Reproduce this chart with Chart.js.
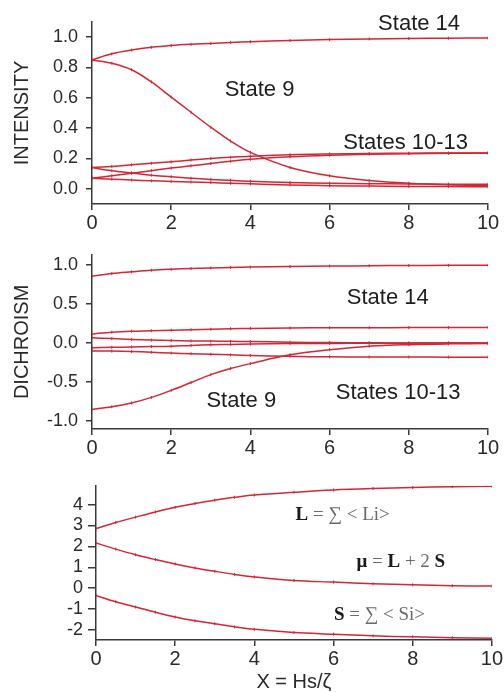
<!DOCTYPE html>
<html>
<head>
<meta charset="utf-8">
<script src="https://cdn.jsdelivr.net/npm/chart.js@4.4.1/dist/chart.umd.min.js"></script>
<style>
  html, body { margin: 0; padding: 0; background: #fff; }
  #wrap { position: relative; width: 504px; height: 692px; }
  canvas { position: absolute; left: 0; }
</style>
</head>
<body>
<div id="wrap">
  <canvas id="intensity" width="504" height="236" style="top:0"></canvas>
  <canvas id="dichroism" width="504" height="234" style="top:236px"></canvas>
  <canvas id="moments" width="504" height="222" style="top:470px"></canvas>
</div>
<script>
// field values X = Hs/zeta
const xs = [0, 0.5, 1, 1.5, 2, 2.5, 3, 3.5, 4, 5, 6, 7, 8, 9, 10];
const xTicks = [0, 2, 4, 6, 8, 10];

// intensity of each state
const intState14 = [0.85, 0.89, 0.915, 0.933, 0.945, 0.953, 0.959, 0.965, 0.97, 0.978, 0.984, 0.988, 0.991, 0.993, 0.995];
const intState9 = [0.85, 0.828, 0.785, 0.705, 0.605, 0.505, 0.406, 0.315, 0.24, 0.141, 0.086, 0.055, 0.037, 0.027, 0.022];
const intStateA = [0.14, 0.148, 0.158, 0.168, 0.178, 0.19, 0.2, 0.208, 0.215, 0.225, 0.23, 0.233, 0.235, 0.236, 0.237];
const intStateB = [0.07, 0.086, 0.103, 0.12, 0.137, 0.152, 0.167, 0.182, 0.195, 0.212, 0.222, 0.228, 0.232, 0.234, 0.236];
const intStateC = [0.14, 0.12, 0.105, 0.09, 0.08, 0.07, 0.062, 0.056, 0.05, 0.042, 0.037, 0.034, 0.032, 0.031, 0.03];
const intStateD = [0.07, 0.064, 0.058, 0.053, 0.049, 0.045, 0.041, 0.037, 0.033, 0.026, 0.021, 0.018, 0.016, 0.015, 0.014];
const intTicks = [0, 0.2, 0.4, 0.6, 0.8, 1.0];

// dichroism of each state
const dicState14 = [0.856, 0.89, 0.912, 0.932, 0.945, 0.955, 0.962, 0.968, 0.973, 0.98, 0.986, 0.99, 0.993, 0.995, 0.996];
const dicState9 = [-0.85, -0.815, -0.767, -0.695, -0.605, -0.505, -0.404, -0.325, -0.263, -0.15, -0.085, -0.04, -0.02, -0.01, -0.005];
const dicStateA = [0.117, 0.14, 0.152, 0.158, 0.165, 0.171, 0.177, 0.183, 0.188, 0.193, 0.196, 0.197, 0.198, 0.199, 0.2];
const dicStateB = [0.068, 0.058, 0.047, 0.038, 0.032, 0.028, 0.025, 0.022, 0.019, 0.012, 0.006, 0.003, 0.001, 0, 0];
const dicStateC = [-0.06, -0.055, -0.05, -0.045, -0.04, -0.03, -0.022, -0.017, -0.013, -0.007, -0.004, -0.002, -0.001, 0, 0];
const dicStateD = [-0.1, -0.103, -0.108, -0.117, -0.128, -0.136, -0.143, -0.151, -0.158, -0.17, -0.176, -0.178, -0.179, -0.18, -0.18];
const dicTicks = [-1.0, -0.5, 0, 0.5, 1.0];

// orbital, total and spin moments
const momentL = [2.85, 3.14, 3.4, 3.65, 3.87, 4.05, 4.21, 4.35, 4.46, 4.59, 4.7, 4.77, 4.82, 4.86, 4.88];
const momentMu = [2.16, 1.87, 1.6, 1.37, 1.16, 0.97, 0.81, 0.66, 0.54, 0.37, 0.29, 0.21, 0.16, 0.12, 0.1];
const momentS = [-0.35, -0.65, -0.9, -1.15, -1.38, -1.56, -1.7, -1.85, -1.97, -2.12, -2.2, -2.28, -2.33, -2.37, -2.4];
const momentTicks = [-2, -1, 0, 1, 2, 3, 4];

const RED = 'rgb(212, 38, 52)';
const AXIS = '#3a3a3a';
const SANS = '"Liberation Sans", Arial, sans-serif';
const SERIF = '"Liberation Serif", "Times New Roman", serif';

// draws free text at data coordinates, made of one or more styled runs
const textLabels = {
    id: 'textLabels',
    afterDatasetsDraw(chart, args, opts) {
        const { ctx } = chart;
        const x = chart.scales.x, y = chart.scales.y;
        (opts.items || []).forEach(item => {
            ctx.save();
            ctx.textBaseline = 'middle';
            ctx.textAlign = 'left';
            const runs = item.runs.map(r => ({
                ...r,
                font: `${r.bold ? 'bold ' : ''}${item.size}px ${item.family}`,
            }));
            let total = 0;
            runs.forEach(r => { ctx.font = r.font; r.w = ctx.measureText(r.text).width; total += r.w; });
            let px = x.getPixelForValue(item.x) - total / 2;
            const py = y.getPixelForValue(item.y);
            runs.forEach(r => {
                ctx.font = r.font;
                ctx.fillStyle = r.color || item.color;
                ctx.fillText(r.text, px, py);
                px += r.w;
            });
            ctx.restore();
        });
    }
};

function series(values) {
    return {
        data: xs.map((x, i) => ({ x, y: values[i] })),
        borderColor: RED,
        borderWidth: 1.5,
        pointStyle: 'line',
        rotation: 90,
        pointRadius: 1.5,
        pointBorderWidth: 1,
        pointBorderColor: RED,
        tension: 0.35,
        fill: false,
    };
}

function makePanel(id, p) {
    return new Chart(document.getElementById(id), {
        type: 'line',
        data: { datasets: p.values.map(series) },
        plugins: [textLabels],
        options: {
            responsive: false,
            animation: false,
            devicePixelRatio: 1,
            layout: { autoPadding: false, padding: { top: p.top, right: p.right, left: 0, bottom: 0 } },
            plugins: {
                legend: { display: false },
                tooltip: { enabled: false },
                textLabels: { items: p.labels },
            },
            scales: {
                x: {
                    type: 'linear',
                    min: 0,
                    max: 10,
                    afterBuildTicks: s => { s.ticks = xTicks.map(v => ({ value: v })); },
                    afterFit: s => { s.height = p.xHeight; },
                    ticks: { color: '#2a2a2a', font: { family: SANS, size: 20 }, padding: 1, maxRotation: 0 },
                    grid: { drawOnChartArea: false, tickLength: 6, color: AXIS, lineWidth: 1.5 },
                    border: { display: true, color: AXIS, width: 1.5 },
                    title: p.xTitle ? {
                        display: true,
                        text: p.xTitle,
                        color: '#2a2a2a',
                        font: { family: SANS, size: 20, lineHeight: 1 },
                        padding: { top: 0, bottom: 0 },
                    } : { display: false },
                },
                y: {
                    type: 'linear',
                    min: p.yMin,
                    max: p.yMax,
                    afterBuildTicks: s => { s.ticks = p.yTicks.map(v => ({ value: v })); },
                    afterFit: s => { s.width = p.yWidth; },
                    ticks: {
                        color: '#2a2a2a',
                        font: { family: SANS, size: 18 },
                        padding: p.yPad,
                        callback: v => p.fmt(v),
                    },
                    grid: { drawOnChartArea: false, tickLength: p.yTick, color: AXIS, lineWidth: 1.5 },
                    border: { display: true, color: AXIS, width: 1.5 },
                    title: p.yTitle ? {
                        display: true,
                        text: p.yTitle,
                        color: '#2a2a2a',
                        font: { family: SANS, size: 20 },
                        padding: { top: 10, bottom: 0 },
                    } : { display: false },
                },
            },
        },
    });
}

const oneDecimal = v => v.toFixed(1);
const sansLabel = (text, x, y) => ({ x, y, size: 22, family: SANS, color: '#1e1e1e', runs: [{ text }] });

makePanel('intensity', {
    values: [intState14, intState9, intStateA, intStateB, intStateC, intStateD],
    top: 22, right: 16, xHeight: 32, yWidth: 92, yTick: 6, yPad: 8,
    yMin: -0.1, yMax: 1.1, yTicks: intTicks, fmt: oneDecimal,
    yTitle: 'INTENSITY',
    labels: [
        sansLabel('State 14', 8.26, 1.09),
        sansLabel('State 9', 4.23, 0.65),
        sansLabel('States 10-13', 7.92, 0.305),
    ],
});

makePanel('dichroism', {
    values: [dicState14, dicState9, dicStateA, dicStateB, dicStateC, dicStateD],
    top: 9, right: 16, xHeight: 41, yWidth: 92, yTick: 6, yPad: 8,
    yMin: -1.1, yMax: 1.13, yTicks: dicTicks, fmt: oneDecimal,
    yTitle: 'DICHROISM',
    labels: [
        sansLabel('State 14', 7.47, 0.584),
        sansLabel('State 9', 3.77, -0.747),
        sansLabel('States 10-13', 7.73, -0.638),
    ],
});

const DARK = '#1a1a1a', GREY = '#6a6a6a';
makePanel('moments', {
    values: [momentL, momentMu, momentS],
    top: 15, right: 7, xHeight: 52, yWidth: 96, yTick: 8, yPad: 5,
    yMin: -2.48, yMax: 4.9, yTicks: momentTicks, fmt: v => String(v),
    xTitle: 'X = Hs/\u03B6',
    labels: [
        { x: 6.23, y: 3.48, size: 19, family: SERIF, color: GREY, runs: [
            { text: 'L', bold: true, color: DARK }, { text: ' = \u2211 < Li>' }] },
        { x: 7.7, y: 1.24, size: 19, family: SERIF, color: GREY, runs: [
            { text: '\u03BC', bold: true, color: DARK }, { text: ' = ' },
            { text: 'L', bold: true, color: DARK }, { text: ' + 2 ' },
            { text: 'S', bold: true, color: DARK }] },
        { x: 7.16, y: -1.29, size: 19, family: SERIF, color: GREY, runs: [
            { text: 'S', bold: true, color: DARK }, { text: ' = \u2211 < Si>' }] },
    ],
});
</script>
</body>
</html>
